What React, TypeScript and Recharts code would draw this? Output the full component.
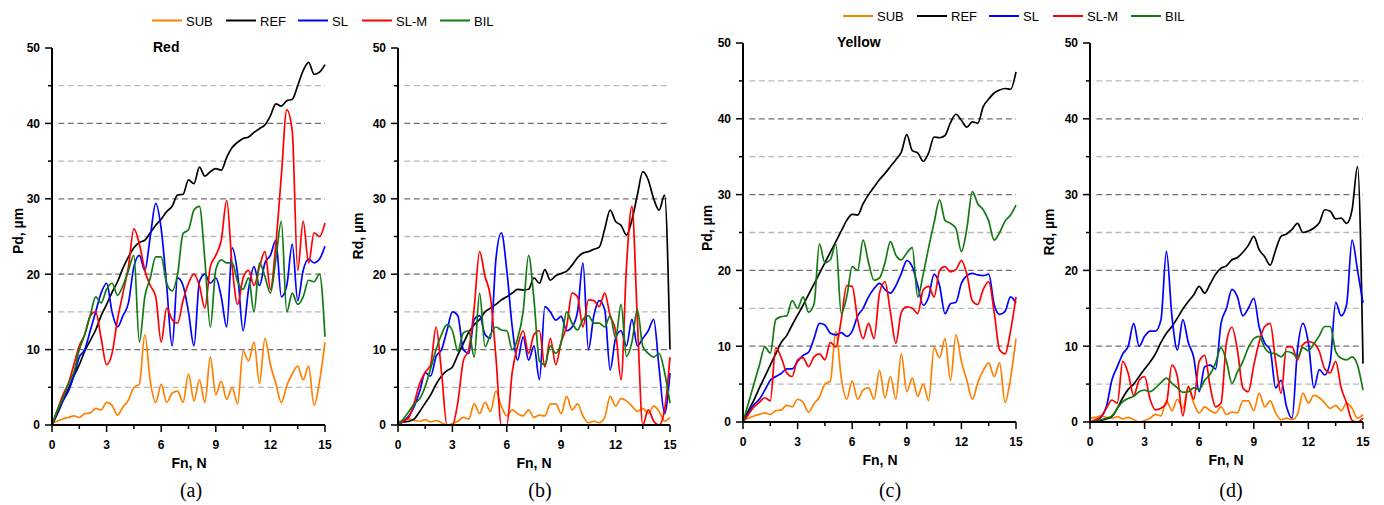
import { LineChart, Line, XAxis, YAxis, ReferenceLine } from "recharts";

// Normal load Fn, N (shared x grid for every trace)
const fnN = [
  0, 0.3, 0.6, 0.9, 1.2, 1.5, 1.8, 2.1, 2.4, 2.7,
  3, 3.3, 3.6, 3.9, 4.2, 4.5, 4.8, 5.1, 5.4, 5.7,
  6, 6.3, 6.6, 6.9, 7.2, 7.5, 7.8, 8.1, 8.4, 8.7,
  9, 9.3, 9.6, 9.9, 10.2, 10.5, 10.8, 11.1, 11.4, 11.7,
  12, 12.3, 12.6, 12.9, 13.2, 13.5, 13.8, 14.1, 14.4, 14.7,
  15,
];

// substrate, shared by both colours
const subPd = [
  0.3, 0.5, 0.8, 1.0, 1.2, 1.0, 1.5, 1.6, 2.2, 2.0,
  3.0, 2.6, 1.3, 2.4, 3.3, 5.0, 5.4, 12.0, 5.8, 3.0,
  5.4, 3.0, 4.2, 4.5, 3.0, 6.8, 3.2, 6.0, 3.0, 9.0,
  4.0, 5.8, 3.4, 5.0, 2.8, 9.8, 8.5, 11.0, 5.5, 11.5,
  8.0, 5.5, 3.0, 5.2, 6.8, 7.8, 6.0, 7.8, 2.6, 5.8,
  11.0,
];
const subRd = [
  0.5, 0.6, 0.8, 0.6, 0.5, 0.7, 0.4, 0.6, 0.3, 0.0,
  0.2, 0.5, 1.0, 0.8, 2.8, 1.5, 3.0, 1.8, 4.5, 2.5,
  1.2, 2.0, 1.5, 1.2, 2.0, 1.0, 1.3, 1.2, 2.8, 2.8,
  1.5, 3.8, 2.0, 2.8, 1.2, 0.3, 0.5, 0.3, 1.0, 3.8,
  2.5, 3.5, 3.2, 2.5, 1.8, 2.2, 1.5, 2.5, 1.8, 0.5,
  1.0,
];

// Red, penetration depth
const refRedPd = [
  0, 1.5, 3.2, 4.8, 6.5, 8.0, 9.8, 11.2, 12.6, 14.5,
  16.0, 17.6, 19.0, 20.8, 22.3, 23.5, 24.2, 24.5, 25.5, 26.5,
  27.3, 28.3, 29.0, 30.5, 30.6, 32.5, 32.0, 34.2, 33.0, 33.6,
  34.0, 33.8, 35.5, 36.8, 37.5, 38.0, 38.2, 38.8, 39.3, 39.8,
  41.0, 42.6, 42.3, 43.0, 43.2, 45.0, 47.0, 48.1, 46.5, 46.8,
  47.8,
];
const slRedPd = [
  0, 1.8, 3.2, 4.5, 6.5, 9.0, 10.0, 12.5, 15.0, 17.5,
  18.8, 15.0, 13.0, 14.5, 16.2, 21.0, 22.5, 20.5, 25.0, 29.4,
  26.0, 18.5, 10.5, 19.5, 18.5, 15.0, 10.5, 19.0, 20.0, 18.8,
  19.5, 17.0, 13.0, 23.5, 20.0, 12.5, 18.0, 21.0, 18.5, 21.5,
  22.5, 24.5, 17.0, 18.5, 24.0, 16.5, 20.5, 22.0, 21.5, 22.0,
  23.7,
];
const slmRedPd = [
  0, 2.0, 4.0, 5.5, 8.0, 10.5, 12.0, 14.5, 15.0, 11.5,
  8.0, 9.5, 14.0, 17.5, 21.0, 26.0, 24.0, 20.5, 18.5, 17.0,
  11.0, 15.5, 14.0, 13.5, 16.5, 18.8, 20.0, 18.5, 15.5, 21.0,
  22.5, 24.5, 29.8, 21.0, 16.0, 19.5, 20.5, 18.5, 21.0, 23.0,
  18.0, 24.0, 33.0, 41.8, 39.0, 20.5, 27.0, 21.5, 25.5, 25.0,
  26.8,
];
const bilRedPd = [
  0, 2.0, 3.5, 5.5, 7.0, 10.0, 12.0, 14.5, 17.0, 16.2,
  18.0, 18.8, 17.2, 18.5, 20.5, 22.5, 11.0, 17.0, 19.5, 22.3,
  22.3, 18.8, 17.8, 20.0, 25.4, 25.9, 28.5, 29.0, 21.9, 13.0,
  20.6, 21.9, 21.5, 21.5, 19.0, 18.0, 19.5, 15.0, 21.5, 19.7,
  17.5, 22.0, 27.0, 15.0, 17.5, 16.0, 17.0, 19.2, 19.0, 20.0,
  11.7,
];

// Red, residual depth
const refRedRd = [
  0.3, 0.4, 0.5, 0.8, 1.8, 2.9, 4.0, 5.4, 6.5, 7.2,
  7.7, 9.3, 10.8, 12.3, 13.3, 14.0, 15.0, 15.5, 16.0, 16.6,
  17.0, 17.5, 18.0, 17.9, 18.0, 19.5, 18.8, 20.6, 19.2, 19.8,
  20.1, 20.4, 21.2, 22.2, 22.8, 23.0, 23.3, 23.6, 26.0, 28.5,
  27.0, 26.5, 25.2, 27.2, 30.5, 33.6, 32.5, 30.0, 28.5, 30.5,
  10.0,
];
const slRedRd = [
  0, 0.5, 1.2, 2.5, 4.5, 6.9, 6.5, 9.1, 10.0, 12.5,
  15.0, 14.5, 10.0, 9.5, 14.0, 14.5, 12.0, 11.5, 22.0, 25.5,
  20.5, 13.0, 8.6, 11.7, 8.6, 10.5, 6.0, 15.7, 15.0, 13.9,
  14.4, 12.5, 13.0, 15.0, 21.5, 10.0, 14.5, 16.5, 15.3, 7.3,
  11.5, 12.5, 10.5, 14.0, 10.5, 11.5, 12.5, 14.0, 7.5, 1.5,
  6.9,
];
const slmRedRd = [
  0, 0.5, 1.0, 3.0, 5.5, 7.0, 8.0, 13.0, 7.0, 0,
  0, 3.0, 8.5, 10.0, 15.5, 23.0, 19.7, 17.0, 9.0, 0,
  0, 7.0, 10.5, 12.5, 9.5, 12.0, 12.5, 7.7, 11.5, 8.0,
  11.0, 13.1, 17.5, 17.0, 13.0, 16.6, 16.5, 15.7, 17.5, 14.5,
  12.5, 6.0, 21.0, 29.0, 14.0, 0, 2.0, 0.5, 0, 2.0,
  9.0,
];
const bilRedRd = [
  0, 0.8, 1.8, 2.8, 3.5, 5.1, 7.5, 10.0, 12.0, 13.3,
  12.5, 9.8, 12.2, 12.5, 9.0, 17.5, 10.4, 12.0, 13.0, 12.6,
  12.5, 10.0, 11.5, 15.0, 22.5, 16.6, 8.5, 8.0, 10.5, 9.5,
  11.0, 15.0, 13.5, 12.6, 14.0, 14.5, 13.5, 13.5, 13.0, 14.5,
  11.5, 16.0, 9.1, 11.0, 15.3, 10.4, 9.5, 9.0, 9.5, 7.0,
  2.9,
];

// Yellow, penetration depth
const refYellowPd = [
  0, 1.5, 2.9, 4.5, 6.0, 7.5, 9.0, 10.5, 11.4, 12.8,
  14.1, 15.4, 16.8, 18.2, 19.6, 21.0, 22.4, 23.8, 25.2, 26.6,
  27.4, 27.3, 28.8, 30.0, 31.0, 32.0, 32.8, 33.7, 34.6, 35.6,
  37.9, 35.8, 35.5, 34.4, 35.5, 37.6, 37.5, 37.8, 39.5, 40.6,
  39.8, 38.9, 39.6, 39.4, 41.6, 42.6, 43.4, 43.8, 44.0, 43.9,
  46.2,
];
const slYellowPd = [
  0, 1.2, 2.3, 3.0, 4.2, 5.5, 6.0, 6.4, 7.0, 7.0,
  8.0, 8.8, 9.2, 11.0, 13.0, 12.8, 11.7, 11.5, 11.8, 11.3,
  12.0, 14.0, 15.0, 16.5, 17.6, 18.3, 17.5, 17.0, 18.0, 19.6,
  21.3, 20.5, 18.0, 15.4, 16.5, 19.5, 18.0, 14.3, 15.6, 15.8,
  18.3, 19.3, 19.6, 19.4, 19.3, 19.5, 15.5, 14.2, 14.6, 16.5,
  15.7,
];
const slmYellowPd = [
  0, 1.0, 2.0, 2.6, 3.2, 2.8, 9.8, 8.5, 6.5, 6.0,
  8.2, 8.5, 7.3, 8.6, 9.0, 8.2, 10.5, 9.9, 13.5, 18.0,
  17.9, 13.5, 11.0, 13.0, 11.0, 17.0, 18.5, 14.5, 10.4, 14.5,
  15.2, 15.0, 14.3, 17.4, 17.9, 16.5, 20.0, 20.5, 19.8, 20.1,
  21.3, 19.5, 16.0, 15.5, 17.5, 18.5, 14.5, 9.5, 9.0, 12.0,
  16.5,
];
const bilYellowPd = [
  0, 2.5, 5.0, 7.5, 9.9, 9.1, 13.5, 13.9, 14.0, 16.0,
  15.0, 16.5, 14.5, 15.5, 23.5, 21.0, 21.4, 23.5, 14.3, 16.5,
  20.5, 20.0, 24.0, 21.0, 18.7, 19.0, 21.0, 23.8, 22.0, 21.4,
  22.3, 23.0, 16.5, 19.5, 23.0, 26.3, 29.3, 26.6, 26.2, 25.5,
  22.5, 25.5, 30.4, 28.8, 28.0, 26.5, 24.0, 25.0, 26.5, 27.3,
  28.6,
];

// Yellow, residual depth
const refYellowRd = [
  0, 0.1, 0.2, 0.4, 0.7, 1.8, 3.2, 4.3, 5.0, 6.0,
  7.0, 7.9, 9.0, 10.5, 11.7, 12.6, 13.7, 14.9, 15.9, 16.8,
  17.9, 17.0, 18.2, 19.5, 20.3, 20.6, 21.4, 21.7, 22.4, 23.3,
  24.5, 22.7, 21.8, 20.7, 22.7, 24.5, 24.8, 25.4, 26.2, 25.0,
  25.2, 25.6, 26.3, 28.0, 27.8, 26.8, 26.9, 26.2, 28.0, 33.7,
  7.7,
];
const slYellowRd = [
  0, 0.2, 0.6, 2.0, 5.5, 7.3, 9.0, 10.0, 13.0, 10.0,
  11.3, 12.0, 12.0, 13.5, 22.5, 14.0, 9.5, 13.5, 10.5, 8.5,
  4.0, 7.3, 7.5, 7.0, 13.0, 15.0, 17.5, 16.5, 14.0, 15.0,
  16.3, 12.5, 10.4, 9.5, 4.5, 5.5, 2.0, 0.5, 9.5, 13.0,
  10.4, 4.5, 6.9, 6.2, 8.0, 15.8, 14.0, 15.5, 24.0, 20.0,
  15.7,
];
const slmYellowRd = [
  0, 0.3, 0.7, 1.8, 2.9, 2.5, 8.0, 6.4, 3.5, 5.5,
  6.0, 3.0, 1.6, 1.8, 2.5, 7.5, 6.0, 0.8, 4.7, 3.0,
  8.0, 8.8, 4.7, 2.0, 2.5, 10.5, 12.5, 9.5, 4.5, 4.0,
  7.5, 10.6, 12.6, 13.0, 8.0, 3.8, 9.9, 9.9, 8.2, 10.2,
  10.6, 10.4, 9.3, 7.0, 6.5, 8.0, 4.5, 2.5, 0.2, 0.0,
  0.5,
];
const bilYellowRd = [
  0, 0.1, 0.3, 0.5, 0.8, 1.8, 2.7, 3.1, 3.4, 4.0,
  4.2, 4.0, 4.5, 5.2, 5.8, 5.1, 4.5, 3.9, 4.0, 4.5,
  4.3, 5.5, 6.3, 7.8, 9.8, 8.0, 5.1, 6.6, 8.0, 9.8,
  11.0, 11.3, 9.8, 9.1, 9.0, 8.6, 9.3, 9.1, 8.6, 9.8,
  9.4, 10.3, 11.4, 12.6, 12.6, 9.3, 8.4, 8.2, 8.6, 7.5,
  4.2,
];

const X_TICKS = [0, 1.5, 3, 4.5, 6, 7.5, 9, 10.5, 12, 13.5, 15];
const Y_TICKS = [0, 5, 10, 15, 20, 25, 30, 35, 40, 45, 50];
const GRID_DARK = [10, 20, 30, 40];
const GRID_LIGHT = [5, 15, 25, 35, 45];

const SANS = '"Liberation Sans", Arial, sans-serif';
const SERIF = '"Liberation Serif", "Times New Roman", serif';

const SERIES = [
  { key: "sub", name: "SUB", color: "#ff8000" },
  { key: "ref", name: "REF", color: "#000000" },
  { key: "sl", name: "SL", color: "#0000ff" },
  { key: "slm", name: "SL-M", color: "#ff0000" },
  { key: "bil", name: "BIL", color: "#137a13" },
];

function XTick(props: any) {
  const { x, y, payload } = props;
  const major = payload.value % 3 === 0;
  return (
    <g>
      <line x1={x} x2={x} y1={y} y2={y + (major ? 7 : 4)} stroke="#000" strokeWidth={1.5} />
      {major && (
        <text x={x} y={y + 23.5} textAnchor="middle" fontFamily={SANS} fontSize={12} fontWeight="bold" fill="#000">
          {payload.value}
        </text>
      )}
    </g>
  );
}

function YTick(props: any) {
  const { x, y, payload } = props;
  const major = payload.value % 10 === 0;
  return (
    <g>
      <line x1={x - (major ? 7 : 4)} x2={x} y1={y} y2={y} stroke="#000" strokeWidth={1.5} />
      {major && (
        <text x={x - 12} y={y + 4.3} textAnchor="end" fontFamily={SANS} fontSize={12} fontWeight="bold" fill="#000">
          {payload.value}
        </text>
      )}
    </g>
  );
}

interface PanelProps {
  x0: number;
  y0: number;
  w: number;
  h: number;
  sub: number[];
  ref: number[];
  sl: number[];
  slm: number[];
  bil: number[];
}

function Panel({ x0, y0, w, h, sub, ref, sl, slm, bil }: PanelProps) {
  const data = fnN.map((fn, i) => ({
    fn,
    sub: sub[i],
    ref: ref[i],
    sl: sl[i],
    slm: slm[i],
    bil: bil[i],
  }));

  return (
    <div style={{ position: "absolute", left: x0 - 45, top: y0 - 10 }}>
      <LineChart
        width={w + 55}
        height={h + 50}
        data={data}
        margin={{ top: 10, right: 10, bottom: 0, left: 0 }}
      >
        <XAxis
          type="number"
          dataKey="fn"
          domain={[0, 15]}
          ticks={X_TICKS}
          interval={0}
          tickLine={false}
          tickSize={0}
          tickMargin={0}
          tick={(p: any) => <XTick {...p} />}
          axisLine={{ stroke: "#000", strokeWidth: 2 }}
          height={40}
        />
        <YAxis
          type="number"
          domain={[0, 50]}
          ticks={Y_TICKS}
          interval={0}
          tickLine={false}
          tickSize={0}
          tickMargin={0}
          tick={(p: any) => <YTick {...p} />}
          axisLine={{ stroke: "#000", strokeWidth: 2 }}
          width={45}
        />
        {GRID_LIGHT.map((v) => (
          <ReferenceLine
            key={`l${v}`}
            segment={[{ x: 0.35, y: v }, { x: 15, y: v }]}
            stroke="#b8b8b8"
            strokeWidth={1.3}
            strokeDasharray="6 3.5"
          />
        ))}
        {GRID_DARK.map((v) => (
          <ReferenceLine
            key={`d${v}`}
            segment={[{ x: 0.35, y: v }, { x: 15, y: v }]}
            stroke="#707070"
            strokeWidth={1.3}
            strokeDasharray="6 3.5"
          />
        ))}
        {SERIES.map((s) => (
          <Line
            key={s.key}
            type="monotone"
            dataKey={s.key}
            stroke={s.color}
            strokeWidth={1.7}
            dot={false}
            activeDot={false}
            isAnimationActive={false}
          />
        ))}
      </LineChart>
    </div>
  );
}

function Legend({ dx, cy }: { dx: number; cy: number }) {
  const starts = [152, 226, 298, 362, 440];
  return (
    <g>
      {SERIES.map((s, i) => (
        <g key={s.key}>
          <line x1={starts[i] + dx} x2={starts[i] + dx + 30} y1={cy} y2={cy} stroke={s.color} strokeWidth={2} />
          <text x={starts[i] + dx + 34} y={cy + 5} fontFamily={SANS} fontSize={13} fill="#000">
            {s.name}
          </text>
        </g>
      ))}
    </g>
  );
}

function AxisTitle({ cx, cy, text }: { cx: number; cy: number; text: string }) {
  return (
    <text
      transform={`translate(${cx},${cy}) rotate(-90)`}
      textAnchor="middle"
      dy="0.35em"
      fontFamily={SANS}
      fontSize={14}
      fontWeight="bold"
      fill="#000"
    >
      {text}
    </text>
  );
}

export default function App() {
  return (
    <div
      style={{
        position: "absolute",
        left: 0,
        top: 0,
        width: 1384,
        height: 505,
        background: "#fff",
        overflow: "hidden",
      }}
    >
      <Panel x0={52} y0={48} w={273} h={377} sub={subPd} ref={refRedPd} sl={slRedPd} slm={slmRedPd} bil={bilRedPd} />
      <Panel x0={398} y0={48} w={272} h={377} sub={subRd} ref={refRedRd} sl={slRedRd} slm={slmRedRd} bil={bilRedRd} />
      <Panel x0={743} y0={43} w={273} h={379} sub={subPd} ref={refYellowPd} sl={slYellowPd} slm={slmYellowPd} bil={bilYellowPd} />
      <Panel x0={1090} y0={43} w={273} h={379} sub={subRd} ref={refYellowRd} sl={slYellowRd} slm={slmYellowRd} bil={bilYellowRd} />

      <svg
        width={1384}
        height={505}
        style={{ position: "absolute", left: 0, top: 0, pointerEvents: "none" }}
      >
        <Legend dx={0} cy={20.5} />
        <Legend dx={691} cy={16} />

        <text x={153} y={51.5} fontFamily={SANS} fontSize={14} fontWeight="bold">Red</text>
        <text x={837} y={46.5} fontFamily={SANS} fontSize={14} fontWeight="bold">Yellow</text>

        <AxisTitle cx={18} cy={231} text="Pd, µm" />
        <AxisTitle cx={358} cy={236} text="Rd, µm" />
        <AxisTitle cx={707} cy={228} text="Pd, µm" />
        <AxisTitle cx={1049} cy={232} text="Rd, µm" />

        {[
          { cx: 189, y: 468 },
          { cx: 534, y: 468 },
          { cx: 880, y: 465 },
          { cx: 1226, y: 465 },
        ].map((t, i) => (
          <text key={i} x={t.cx} y={t.y} textAnchor="middle" fontFamily={SANS} fontSize={14} fontWeight="bold">
            Fn, N
          </text>
        ))}

        {[
          { cx: 191, label: "(a)" },
          { cx: 540, label: "(b)" },
          { cx: 890, label: "(c)" },
          { cx: 1231, label: "(d)" },
        ].map((t) => (
          <text key={t.label} x={t.cx} y={497} textAnchor="middle" fontFamily={SERIF} fontSize={20}>
            {t.label}
          </text>
        ))}
      </svg>
    </div>
  );
}
